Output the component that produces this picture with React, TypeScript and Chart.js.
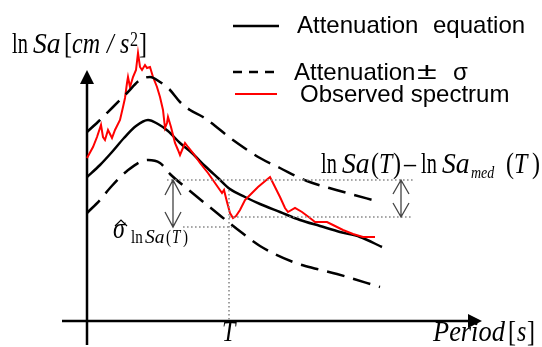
import React, { useEffect, useRef } from "react";
import { Chart, registerables } from "chart.js";

Chart.register(...registerables);

// Schematic units: period (x) and ln Sa (y)
const medianX = [0, 13, 25, 37, 49, 61, 71, 81, 93, 105, 118, 131, 143, 158, 173, 193, 213, 233, 253, 273, 295];
const medianY = [144, 156, 169, 183, 195, 201, 197, 190, 178, 168, 155, 143, 132, 124, 117, 109, 101, 95, 89, 84, 74];

const upperX = [0, 13, 26, 40, 53, 63, 73, 83, 93, 103, 116, 146, 173, 193, 220, 253, 293];
const upperY = [189, 201, 214, 228, 241, 244, 239, 231, 219, 211, 204, 181, 163, 153, 140, 130, 119];

const lowerX = [0, 13, 23, 40, 61, 73, 83, 103, 130, 150, 173, 206, 230, 250, 293];
const lowerY = [108, 121, 133, 150, 161, 158, 147, 130, 108, 92, 75, 59, 52, 47, 34];

const obsX = [0, 6, 10, 14, 16, 18, 21, 25, 28, 33, 36, 38, 40, 41, 43, 46, 49, 51, 53, 55, 58, 60, 63, 66, 70, 73, 76, 78, 80, 81, 84, 88, 91, 93, 98, 101, 106, 113, 121, 128, 135, 137, 140, 143, 146, 149, 153, 158, 163, 166, 171, 183, 186, 193, 198, 201, 208, 215, 223, 228, 240, 246, 256, 266, 276, 288];
const obsY = [163, 174, 184, 196, 184, 181, 191, 183, 191, 201, 214, 223, 238, 244, 234, 244, 251, 268, 254, 251, 256, 253, 254, 244, 234, 224, 211, 193, 198, 204, 194, 178, 171, 166, 178, 174, 168, 158, 148, 138, 128, 131, 119, 108, 103, 105, 111, 121, 126, 129, 134, 144, 138, 124, 113, 109, 113, 109, 103, 99, 99, 96, 91, 87, 84, 84];

// Reference levels
const periodT = 142;
const levelObs = 141;
const levelMed = 104;
const levelSigma = 94;
const guideTop = 131;

const xMin = -87, xMax = 455, yMin = -26, yMax = 321;
const axisXStart = -25, axisXEnd = 395, axisYStart = -24, axisYEnd = 251;
const sigmaArrowX = 86, diffArrowX = 314;
const obsLevelFrom = 80, levelTo = 326, sigmaLevelFrom = 96;

const zip = (xs: number[], ys: number[]) => xs.map((x, i) => ({ x, y: ys[i] }));

const SERIF = '"Liberation Serif", "Times New Roman", serif';
const SANS = '"Liberation Sans", Arial, sans-serif';

function txt(ctx: CanvasRenderingContext2D, s: string, x: number, y: number, font: string, sy = 1, sx = 1) {
  ctx.save();
  ctx.translate(x, y);
  ctx.scale(sx, sy);
  ctx.font = font;
  ctx.fillStyle = "#000";
  ctx.textBaseline = "alphabetic";
  ctx.textAlign = "left";
  ctx.fillText(s, 0, 0);
  ctx.restore();
}

const decor = {
  id: "decor",
  beforeDatasetsDraw(chart: any) {
    const ctx: CanvasRenderingContext2D = chart.ctx;
    const X = (v: number) => chart.scales.x.getPixelForValue(v);
    const Y = (v: number) => chart.scales.y.getPixelForValue(v);
    ctx.save();
    ctx.fillStyle = "#fff";
    ctx.fillRect(0, 0, chart.width, chart.height);
    // axes
    ctx.strokeStyle = "#000";
    ctx.lineWidth = 2.5;
    ctx.beginPath();
    ctx.moveTo(X(axisXStart), Y(0));
    ctx.lineTo(X(axisXEnd) - 10, Y(0));
    ctx.moveTo(X(0), Y(axisYStart));
    ctx.lineTo(X(0), Y(axisYEnd) + 10);
    ctx.stroke();
    ctx.fillStyle = "#000";
    ctx.beginPath();
    ctx.moveTo(X(axisXEnd), Y(0));
    ctx.lineTo(X(axisXEnd) - 14, Y(0) - 7);
    ctx.lineTo(X(axisXEnd) - 14, Y(0) + 7);
    ctx.closePath();
    ctx.fill();
    ctx.beginPath();
    ctx.moveTo(X(0), Y(axisYEnd));
    ctx.lineTo(X(0) - 7, Y(axisYEnd) + 14);
    ctx.lineTo(X(0) + 7, Y(axisYEnd) + 14);
    ctx.closePath();
    ctx.fill();
    ctx.restore();
  },
  afterDatasetsDraw(chart: any) {
    const ctx: CanvasRenderingContext2D = chart.ctx;
    const X = (v: number) => chart.scales.x.getPixelForValue(v);
    const Y = (v: number) => chart.scales.y.getPixelForValue(v);
    ctx.save();
    // double arrows
    const dbl = (xv: number, y1: number, y2: number, w: number, h: number) => {
      const x = X(xv), a = Y(y1), b = Y(y2);
      ctx.strokeStyle = "#444";
      ctx.lineWidth = 1.3;
      ctx.beginPath();
      ctx.moveTo(x, a); ctx.lineTo(x, b);
      ctx.moveTo(x - w, a + h); ctx.lineTo(x, a); ctx.lineTo(x + w, a + h);
      ctx.moveTo(x - w, b - h); ctx.lineTo(x, b); ctx.lineTo(x + w, b - h);
      ctx.stroke();
    };
    dbl(sigmaArrowX, levelObs, levelSigma, 8, 15);
    dbl(diffArrowX, levelObs, levelMed, 8, 14);

    // legend
    ctx.lineWidth = 2.5;
    ctx.strokeStyle = "#000";
    ctx.beginPath(); ctx.moveTo(233, 26); ctx.lineTo(279, 26); ctx.stroke();
    ctx.setLineDash([9, 7]);
    ctx.beginPath(); ctx.moveTo(233, 72); ctx.lineTo(275, 72); ctx.stroke();
    ctx.setLineDash([]);
    ctx.strokeStyle = "#ff0000";
    ctx.lineWidth = 2;
    ctx.beginPath(); ctx.moveTo(235, 94); ctx.lineTo(277, 94); ctx.stroke();
    const f24 = `24px ${SANS}`;
    txt(ctx, "Attenuation", 297, 33, f24);
    txt(ctx, "equation", 433, 33, f24);
    txt(ctx, "Attenuation", 294, 80, f24);
    txt(ctx, "±", 417, 79, f24, 1, 1.5);
    txt(ctx, "σ", 453, 80, f24);
    txt(ctx, "Observed spectrum", 300, 102, f24);

    // math labels
    const sy = 1.25;
    const up = `24px ${SERIF}`;
    const it = `italic 24px ${SERIF}`;
    // y label
    txt(ctx, "ln", 12, 53, up, sy, 0.85);
    txt(ctx, "Sa", 33, 53, it, sy, 1.15);
    txt(ctx, "[", 64, 53, up, sy);
    txt(ctx, "cm", 72, 53, it, sy);
    txt(ctx, "/", 107, 53, it, sy);
    txt(ctx, "s", 120, 53, it, sy);
    txt(ctx, "2", 130, 46, `16px ${SERIF}`, sy);
    txt(ctx, "]", 139, 53, up, sy);
    // difference label
    txt(ctx, "ln", 321, 173, up, sy, 0.85);
    txt(ctx, "Sa", 342, 173, it, sy, 1.15);
    txt(ctx, "(", 371, 173, up, sy);
    txt(ctx, "T", 379, 173, it, sy);
    txt(ctx, ")", 393, 173, up, sy);
    txt(ctx, "–", 404, 173, up, sy);
    txt(ctx, "ln", 421, 173, up, sy, 0.85);
    txt(ctx, "Sa", 442, 173, it, sy, 1.15);
    txt(ctx, "med", 471, 178, `italic 14px ${SERIF}`, sy);
    txt(ctx, "(", 506, 173, up, sy);
    txt(ctx, "T", 514, 173, it, sy);
    txt(ctx, ")", 532, 173, up, sy);
    // sigma label
    txt(ctx, "σ", 113, 238, it, sy);
    ctx.strokeStyle = "#000";
    ctx.lineWidth = 1.2;
    ctx.beginPath(); ctx.moveTo(115, 226); ctx.lineTo(121, 220); ctx.lineTo(127, 226); ctx.stroke();
    const s15 = `15px ${SERIF}`, i15 = `italic 15px ${SERIF}`;
    txt(ctx, "ln", 131, 243, s15, sy);
    txt(ctx, "Sa", 145, 243, i15, sy, 1.3);
    txt(ctx, "(", 166, 243, s15, sy);
    txt(ctx, "T", 172, 243, i15, sy);
    txt(ctx, ")", 183, 243, s15, sy);
    // axis labels
    txt(ctx, "T", 222, 341, it, sy);
    txt(ctx, "Period", 433, 341, it, sy, 1.1);
    txt(ctx, "[", 508, 341, up, sy);
    txt(ctx, "s", 517, 341, it, sy);
    txt(ctx, "]", 527, 341, up, sy);
    ctx.restore();
  },
};

export default function App() {
  const ref = useRef<HTMLCanvasElement | null>(null);
  useEffect(() => {
    document.body.style.margin = "0";
    if (!ref.current) return;
    const dotted = {
      borderColor: "#8a8a8a",
      borderWidth: 1.6,
      borderDash: [1.6, 2.4],
      pointRadius: 0,
      showLine: true,
      fill: false,
    };
    const chart = new Chart(ref.current, {
      type: "scatter",
      data: {
        datasets: [
          { ...dotted, data: [{ x: obsLevelFrom, y: levelObs }, { x: levelTo, y: levelObs }] },
          { ...dotted, data: [{ x: periodT, y: levelMed }, { x: levelTo, y: levelMed }] },
          { ...dotted, data: [{ x: sigmaLevelFrom, y: levelSigma }, { x: periodT + 3, y: levelSigma }] },
          { ...dotted, data: [{ x: periodT, y: guideTop }, { x: periodT, y: 0 }] },
          {
            data: zip(upperX, upperY), showLine: true, borderColor: "#000", borderWidth: 2.5,
            borderDash: [18, 9], pointRadius: 0, cubicInterpolationMode: "monotone",
          },
          {
            data: zip(lowerX, lowerY), showLine: true, borderColor: "#000", borderWidth: 2.5,
            borderDash: [18, 9], pointRadius: 0, cubicInterpolationMode: "monotone",
          },
          {
            data: zip(obsX, obsY), showLine: true, borderColor: "#ff0000", borderWidth: 2,
            pointRadius: 0, tension: 0,
          },
          {
            data: zip(medianX, medianY), showLine: true, borderColor: "#000", borderWidth: 2.5,
            pointRadius: 0, cubicInterpolationMode: "monotone",
          },
        ],
      } as any,
      options: {
        animation: false,
        responsive: true,
        maintainAspectRatio: false,
        layout: { padding: 0 },
        plugins: { legend: { display: false }, tooltip: { enabled: false } },
        scales: {
          x: { type: "linear", min: xMin, max: xMax, display: false },
          y: { type: "linear", min: yMin, max: yMax, display: false },
        },
        elements: { line: { borderCapStyle: "butt" } },
      } as any,
      plugins: [decor],
    });
    return () => chart.destroy();
  }, []);
  return (
    <div style={{ width: 542, height: 347, position: "relative" }}>
      <canvas ref={ref} />
    </div>
  );
}
